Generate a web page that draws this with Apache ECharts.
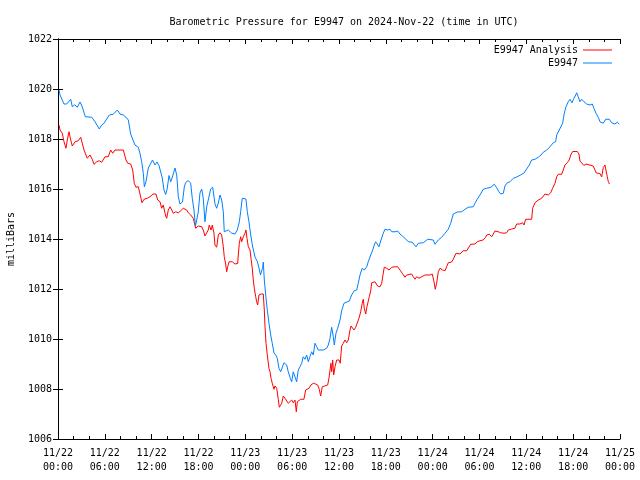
<!DOCTYPE html>
<html>
<head>
<meta charset="utf-8">
<script src="https://cdn.jsdelivr.net/npm/echarts@6/dist/echarts.min.js"></script>
<style>html,body{margin:0;padding:0;background:#fff;}#chart{width:640px;height:480px;}</style>
</head>
<body>
<div id="chart"></div>
<script>
// hours since 2024-11-22 00:00 UTC
const analysisHours = [0.13,0.26,0.55,0.77,1.02,1.19,1.41,1.63,1.83,2.18,2.60,2.91,3.11,3.33,3.55,3.75,4.10,4.39,4.61,4.96,5.29,5.60,6.02,6.44,6.75,7.01,7.30,8.37,8.58,8.71,8.93,9.31,9.57,9.77,9.99,10.29,10.50,10.63,10.76,11.02,11.44,11.79,12.17,12.55,12.77,13.07,13.28,13.49,13.62,13.80,13.93,14.13,14.35,14.57,14.77,15.08,15.41,15.72,16.05,16.27,16.49,16.69,17.00,17.33,17.55,17.64,17.77,17.97,18.19,18.41,18.61,18.83,19.05,19.25,19.38,19.60,19.77,19.98,20.11,20.33,20.54,20.75,20.97,21.18,21.30,21.48,21.61,21.74,21.91,22.33,22.67,23.02,23.10,23.23,23.40,23.53,23.74,23.96,24.08,24.21,24.38,24.60,24.72,24.89,25.02,25.15,25.33,25.45,25.58,25.75,26.01,26.17,26.30,26.43,26.52,26.65,26.81,27.03,27.16,27.29,27.45,27.67,27.80,28.02,28.14,28.22,28.35,28.53,28.66,28.86,29.08,29.30,29.50,29.72,29.94,30.14,30.36,30.53,30.66,30.87,31.09,31.30,31.51,31.73,31.94,32.15,32.41,32.71,33.01,33.27,33.47,33.65,33.86,34.11,34.55,34.72,34.85,34.97,35.06,35.19,35.32,35.49,35.70,36.00,36.16,36.34,36.55,36.77,36.98,37.19,37.41,37.54,37.70,37.92,38.14,38.39,38.56,38.78,38.98,39.11,39.24,39.42,39.58,39.75,39.88,40.06,40.19,40.61,40.95,41.25,41.47,41.67,41.80,42.11,42.40,42.75,43.17,43.52,43.81,44.11,44.45,44.67,44.88,45.31,45.52,45.73,45.95,46.25,46.59,47.01,47.65,47.95,48.17,48.33,48.51,48.72,48.94,49.28,49.58,49.79,50.00,50.43,50.64,50.99,51.50,51.72,51.92,52.36,52.56,52.87,53.42,53.71,54.06,54.48,54.79,54.92,55.25,55.56,55.98,56.41,56.71,57.14,57.48,57.69,58.12,58.54,58.76,59.18,59.53,59.70,59.91,60.68,60.81,61.11,61.53,61.96,62.17,62.39,62.81,63.12,63.37,63.67,63.89,64.09,64.53,64.73,64.95,65.24,65.50,65.68,65.94,66.53,66.74,66.87,67.09,67.38,67.64,67.81,68.57,68.79,68.96,69.43,69.65,69.86,70.07,70.29,70.37,70.50,70.65];
const analysisValues = [1018.56,1018.36,1018.23,1017.89,1017.63,1017.96,1018.29,1017.96,1017.72,1017.89,1017.93,1018.07,1017.83,1017.56,1017.63,1017.23,1017.36,1017.19,1016.99,1017.09,1017.13,1017.07,1017.29,1017.29,1017.56,1017.43,1017.56,1017.56,1017.49,1017.16,1017.03,1017.00,1016.76,1016.23,1016.07,1016.09,1016.03,1015.63,1015.45,1015.59,1015.63,1015.69,1015.80,1015.80,1015.56,1015.49,1015.23,1015.36,1015.16,1014.92,1014.83,1015.16,1015.29,1015.16,1015.03,1015.09,1015.05,1015.13,1015.23,1015.29,1015.16,1015.05,1014.96,1014.83,1014.76,1014.43,1014.47,1014.52,1014.56,1014.49,1014.36,1014.12,1014.16,1014.36,1014.56,1014.36,1014.56,1014.23,1013.76,1013.67,1014.16,1014.25,1014.16,1013.69,1013.29,1013.00,1012.69,1012.89,1013.09,1013.09,1013.00,1013.02,1013.36,1013.83,1014.09,1013.89,1014.09,1014.23,1014.36,1014.03,1013.69,1013.56,1013.23,1012.83,1012.36,1012.03,1011.69,1011.49,1011.36,1011.76,1011.80,1011.83,1011.80,1011.16,1010.49,1009.83,1009.36,1008.83,1008.69,1008.43,1008.23,1007.99,1008.12,1008.03,1007.96,1007.59,1007.27,1007.23,1007.43,1007.72,1007.63,1007.56,1007.43,1007.49,1007.56,1007.45,1007.56,1007.09,1007.49,1007.53,1007.59,1007.67,1007.59,1007.96,1008.03,1008.03,1008.16,1008.23,1008.20,1008.16,1007.99,1007.72,1008.09,1008.16,1008.16,1008.44,1008.76,1009.03,1008.69,1009.16,1008.56,1008.89,1009.16,1009.16,1009.03,1009.72,1009.83,1009.96,1009.85,1009.96,1010.36,1010.52,1010.47,1010.36,1010.47,1010.49,1010.83,1011.09,1011.43,1011.59,1011.23,1011.00,1011.29,1011.36,1011.69,1011.93,1012.25,1012.29,1012.12,1012.09,1012.23,1012.63,1012.87,1012.83,1012.76,1012.87,1012.89,1012.89,1012.76,1012.63,1012.47,1012.56,1012.60,1012.60,1012.49,1012.39,1012.49,1012.43,1012.49,1012.56,1012.56,1012.60,1012.29,1011.99,1012.23,1012.69,1012.83,1012.76,1012.73,1012.89,1013.05,1013.08,1013.19,1013.43,1013.40,1013.32,1013.53,1013.53,1013.56,1013.79,1013.80,1013.89,1013.93,1013.96,1014.07,1014.16,1014.19,1014.09,1014.32,1014.29,1014.25,1014.23,1014.25,1014.36,1014.40,1014.43,1014.60,1014.60,1014.65,1014.56,1014.79,1014.79,1015.23,1015.45,1015.56,1015.63,1015.69,1015.80,1015.76,1015.85,1016.03,1016.23,1016.49,1016.59,1016.59,1016.76,1016.96,1017.05,1017.16,1017.36,1017.50,1017.50,1017.40,1017.12,1017.04,1016.94,1017.00,1016.92,1016.92,1016.87,1016.64,1016.62,1016.48,1016.86,1016.96,1016.89,1016.49,1016.30,1016.20];
const obsHours = [0.13,0.26,0.77,1.11,1.63,1.83,2.14,2.47,2.82,3.07,3.50,4.32,4.74,5.29,5.60,5.89,6.57,7.08,7.60,7.94,8.37,8.71,9.01,9.31,9.86,10.29,10.50,10.72,10.93,11.06,11.27,11.57,12.11,12.43,12.68,12.94,13.19,13.36,13.58,13.80,14.00,14.22,14.44,14.69,14.99,15.21,15.41,15.63,15.95,16.18,16.36,16.69,17.00,17.20,17.42,17.61,17.77,17.97,18.19,18.41,18.61,18.83,19.05,19.25,19.56,19.82,20.11,20.33,20.54,20.75,20.97,21.18,21.30,21.82,22.25,22.67,22.97,23.23,23.40,23.61,23.83,24.08,24.25,24.47,24.69,24.92,25.24,25.53,25.75,25.94,26.07,26.22,26.30,26.43,26.61,26.81,27.03,27.25,27.45,27.67,27.89,28.09,28.31,28.53,28.73,28.95,29.30,29.50,29.76,29.94,30.14,30.36,30.58,30.78,31.00,31.22,31.42,31.64,31.86,32.07,32.28,32.50,32.71,32.92,33.14,33.35,33.99,34.42,34.63,34.85,35.06,35.27,35.40,35.61,35.83,36.13,36.34,36.64,36.89,37.32,37.62,37.96,38.27,38.47,38.69,38.98,39.24,39.55,39.75,40.06,40.32,40.52,40.70,40.95,41.12,41.38,41.67,41.89,42.24,42.53,42.75,43.17,43.52,43.81,44.11,44.45,44.88,45.39,45.86,46.16,46.37,46.80,47.36,48.08,48.30,48.72,49.15,49.58,50.00,50.31,50.64,51.15,51.72,52.14,52.56,53.20,53.42,53.71,54.06,54.48,54.92,55.47,55.89,56.20,56.49,56.71,57.05,57.26,57.56,57.90,58.33,58.76,59.27,59.70,60.04,60.38,60.68,61.11,61.53,61.88,62.17,62.61,63.03,63.45,63.76,63.89,64.22,64.44,64.65,64.86,65.08,65.37,65.59,65.85,66.10,66.27,66.45,66.65,66.87,67.09,67.38,67.73,68.15,68.45,68.66,68.92,69.22,69.43,69.65,69.86,70.16,70.63,70.93,71.35,71.65,71.91];
const obsValues = [1019.96,1019.76,1019.40,1019.40,1019.59,1019.29,1019.37,1019.27,1019.48,1019.32,1018.89,1018.87,1018.69,1018.40,1018.56,1018.63,1018.96,1018.99,1019.16,1019.00,1018.96,1018.87,1018.76,1018.20,1017.76,1017.67,1017.43,1017.09,1016.63,1016.09,1016.29,1016.84,1017.16,1016.96,1017.08,1016.94,1016.89,1016.44,1015.96,1015.78,1016.03,1016.54,1016.29,1016.52,1016.84,1016.56,1015.69,1015.40,1015.48,1016.08,1016.26,1016.34,1016.23,1015.63,1015.16,1014.52,1014.76,1015.09,1015.84,1016.00,1015.63,1014.69,1015.29,1015.56,1016.00,1016.07,1015.40,1015.23,1015.44,1015.76,1015.56,1015.09,1014.29,1014.36,1014.23,1014.20,1014.36,1014.69,1015.09,1015.63,1015.67,1015.60,1015.09,1014.68,1014.16,1013.72,1013.28,1013.10,1012.84,1012.56,1012.48,1012.86,1013.08,1012.36,1011.76,1011.16,1010.63,1010.16,1009.83,1009.45,1009.36,1009.23,1008.83,1008.69,1008.76,1009.05,1008.96,1008.69,1008.43,1008.29,1008.69,1008.76,1008.29,1008.76,1008.89,1009.03,1009.29,1009.19,1009.36,1009.09,1009.29,1009.49,1009.36,1009.83,1009.69,1009.56,1009.56,1009.63,1009.76,1010.03,1010.47,1010.09,1009.76,1010.23,1010.43,1010.76,1011.13,1011.43,1011.49,1011.52,1011.76,1011.93,1011.96,1012.23,1012.56,1012.83,1012.76,1012.89,1013.09,1013.36,1013.56,1013.76,1013.89,1013.83,1013.69,1013.96,1014.23,1014.39,1014.36,1014.39,1014.29,1014.29,1014.32,1014.20,1014.12,1014.03,1013.89,1013.87,1013.69,1013.83,1013.76,1013.85,1013.99,1013.96,1013.79,1013.96,1014.07,1014.23,1014.39,1014.63,1015.00,1015.08,1015.09,1015.19,1015.27,1015.29,1015.43,1015.59,1015.76,1015.99,1016.03,1016.07,1016.19,1016.05,1015.89,1015.80,1015.83,1016.12,1016.25,1016.29,1016.43,1016.48,1016.56,1016.64,1016.80,1016.96,1017.16,1017.19,1017.27,1017.36,1017.47,1017.56,1017.69,1017.85,1017.89,1018.16,1018.36,1018.39,1018.63,1019.03,1019.29,1019.49,1019.59,1019.45,1019.63,1019.72,1019.85,1019.69,1019.49,1019.59,1019.49,1019.40,1019.36,1019.40,1019.23,1019.03,1018.87,1018.69,1018.76,1018.63,1018.79,1018.79,1018.65,1018.60,1018.67,1018.59];
const xTickLabels = ['11/22\n00:00','11/22\n06:00','11/22\n12:00','11/22\n18:00','11/23\n00:00','11/23\n06:00','11/23\n12:00','11/23\n18:00','11/24\n00:00','11/24\n06:00','11/24\n12:00','11/24\n18:00','11/25\n00:00'];
const seriesNames = ['E9947 Analysis', 'E9947'];
const titleText = 'Barometric Pressure for E9947 on 2024-Nov-22 (time in UTC)';

const FONT = 'DejaVu Sans Mono';
const zip = (a, b) => a.map((h, i) => [h, b[i]]);
const chart = echarts.init(document.getElementById('chart'), null, {renderer: 'canvas'});
const tickCommon = {
  axisLine: {show: true, lineStyle: {color: '#000', width: 1}},
  axisTick: {show: true, inside: true, length: 5, lineStyle: {color: '#000'}},
  splitLine: {show: false}
};
chart.setOption({
  animation: false,
  backgroundColor: '#fff',
  textStyle: {fontFamily: FONT, color: '#000'},
  title: {
    text: titleText, left: 339, top: 12, textAlign: 'center',
    textStyle: {fontFamily: FONT, fontSize: 10, fontWeight: 'normal', color: '#000'}
  },
  legend: {
    orient: 'vertical', right: 23, top: 39, align: 'right',
    icon: 'rect', itemWidth: 29, itemHeight: 1, itemGap: 1,
    textStyle: {fontFamily: FONT, fontSize: 10, color: '#000', lineHeight: 12},
    data: seriesNames
  },
  grid: {left: 58, top: 39, width: 562, height: 400, containLabel: false, outerBoundsMode: 'none'},
  xAxis: [
    Object.assign({}, tickCommon, {
      type: 'value', min: 0, max: 72, interval: 6, position: 'bottom',
      minorTick: {show: true, splitNumber: 3, length: 3, lineStyle: {color: '#000'}},
      axisLabel: {
        margin: 7, fontFamily: FONT, fontSize: 10, color: '#000', lineHeight: 14,
        formatter: v => xTickLabels[Math.round(v / 6)]
      }
    }),
    Object.assign({}, tickCommon, {
      type: 'value', min: 0, max: 72, interval: 6, position: 'top',
      minorTick: {show: true, splitNumber: 3, length: 3, lineStyle: {color: '#000'}},
      axisLabel: {show: false}
    })
  ],
  yAxis: [
    Object.assign({}, tickCommon, {
      type: 'value', min: 1006, max: 1022, interval: 2, position: 'left',
      name: 'milliBars', nameLocation: 'middle', nameGap: 42, nameRotate: 90,
      nameTextStyle: {fontFamily: FONT, fontSize: 10, color: '#000'},
      axisLabel: {margin: 6, fontFamily: FONT, fontSize: 10, color: '#000', formatter: v => String(v)}
    }),
    Object.assign({}, tickCommon, {
      type: 'value', min: 1006, max: 1022, interval: 2, position: 'right',
      axisLabel: {show: false}
    })
  ],
  series: [
    {
      name: seriesNames[0], type: 'line', symbol: 'none', showSymbol: false,
      data: zip(analysisHours, analysisValues),
      itemStyle: {color: '#ff0000'}, lineStyle: {color: '#ff0000', width: 1}
    },
    {
      name: seriesNames[1], type: 'line', symbol: 'none', showSymbol: false,
      data: zip(obsHours, obsValues),
      itemStyle: {color: '#0080ff'}, lineStyle: {color: '#0080ff', width: 1}
    }
  ]
});
</script>
</body>
</html>
